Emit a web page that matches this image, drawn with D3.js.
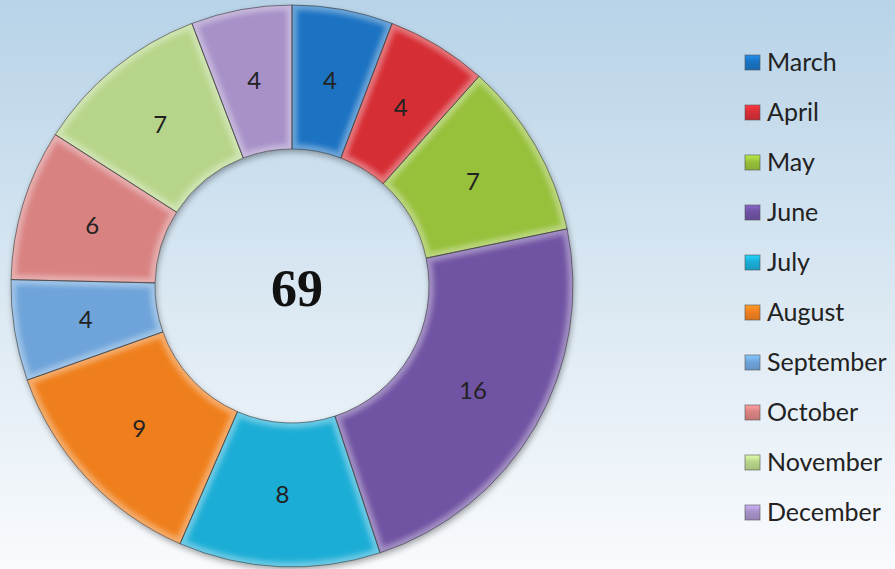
<!DOCTYPE html>
<html>
<head>
<meta charset="utf-8">
<script src="https://cdn.jsdelivr.net/npm/d3@7"></script>
<style>
  body { margin: 0; padding: 0; }
  svg { display: block; }
</style>
</head>
<body>
<div id="chart"></div>
<script>
//Chart data
let months = ["March", "April", "May", "June", "July", "August", "September", "October", "November", "December"];
let counts = [4, 4, 7, 16, 8, 9, 4, 6, 7, 4];
let colors = ["#1a73c2", "#d62e36", "#97c03a", "#6f52a3", "#1badd6", "#ef7f1f", "#6ea4da", "#d98282", "#b7d58a", "#a791c8"];

//Set graph size
let svgWidth = 895;
let svgHeight = 569;
let cx = 292, cy = 286;
let outerR = 281, innerR = 137;

let svg = d3.select("#chart")
    .append("svg")
    .attr("width", svgWidth)
    .attr("height", svgHeight);

let defs = svg.append("defs");

//Background gradient
let bg = defs.append("linearGradient")
    .attr("id", "bg")
    .attr("x1", 0).attr("y1", 0).attr("x2", 0).attr("y2", 1);
bg.append("stop").attr("offset", "0%").attr("stop-color", "#b8d3e8");
bg.append("stop").attr("offset", "55%").attr("stop-color", "#dce9f3");
bg.append("stop").attr("offset", "100%").attr("stop-color", "#f9fbfd");

svg.append("rect")
    .attr("width", svgWidth)
    .attr("height", svgHeight)
    .attr("fill", "url(#bg)");

//Drop shadow for the ring
let shadow = defs.append("filter").attr("id", "shadow")
    .attr("x", "-10%").attr("y", "-10%").attr("width", "120%").attr("height", "120%");
shadow.append("feGaussianBlur").attr("in", "SourceAlpha").attr("stdDeviation", 3);
shadow.append("feOffset").attr("dx", 1).attr("dy", 3).attr("result", "blur");
shadow.append("feComponentTransfer").append("feFuncA").attr("type", "linear").attr("slope", 0.35);
let merge = shadow.append("feMerge");
merge.append("feMergeNode");
merge.append("feMergeNode").attr("in", "SourceGraphic");

//Soft blur for the bevel glow
defs.append("filter").attr("id", "soft")
    .attr("x", "-10%").attr("y", "-10%").attr("width", "120%").attr("height", "120%")
    .append("feGaussianBlur").attr("stdDeviation", 2.5);

//Pie layout
let pie = d3.pie().sort(null).value(function(d) { return d; });
let arc = d3.arc().innerRadius(innerR).outerRadius(outerR);
let arcs = pie(counts);

let ring = svg.append("g")
    .attr("transform", "translate(" + cx + "," + cy + ")");

let ringBase = ring.append("g").attr("filter", "url(#shadow)");

//Clip paths so the bevel highlight stays inside each slice
arcs.forEach(function(d, i) {
    defs.append("clipPath")
        .attr("id", "clip" + i)
        .append("path")
        .attr("d", arc(d));
});

ringBase.selectAll("path.slice")
    .data(arcs)
    .enter()
    .append("path")
    .attr("class", "slice")
    .attr("d", arc)
    .attr("fill", function(d, i) { return colors[i]; });

//Bevel: soft light glow along the edges
ring.selectAll("g.bevel")
    .data(arcs)
    .enter()
    .append("g")
    .attr("class", "bevel")
    .attr("clip-path", function(d, i) { return "url(#clip" + i + ")"; })
    .append("path")
    .attr("d", arc)
    .attr("fill", "none")
    .attr("filter", "url(#soft)")
    .attr("stroke", "#ffffff")
    .attr("stroke-opacity", 0.35)
    .attr("stroke-width", 10);

ring.selectAll("path.outline")
    .data(arcs)
    .enter()
    .append("path")
    .attr("class", "outline")
    .attr("d", arc)
    .attr("fill", "none")
    .attr("stroke", "#3a3a3a")
    .attr("stroke-opacity", 0.6)
    .attr("stroke-width", 1);

//Value labels
ring.selectAll("text.value")
    .data(arcs)
    .enter()
    .append("text")
    .attr("class", "value")
    .attr("x", function(d) { return arc.centroid(d)[0]; })
    .attr("y", function(d) { return arc.centroid(d)[1]; })
    .attr("dy", "0.36em")
    .attr("text-anchor", "middle")
    .style("font-family", "Lato, 'Open Sans', sans-serif")
    .style("font-size", "24px")
    .style("fill", "#222")
    .text(function(d) { return d.data; });

//Total in the middle
svg.append("text")
    .attr("x", cx + 5)
    .attr("y", 306)
    .attr("text-anchor", "middle")
    .style("font-family", "'Liberation Serif', 'DejaVu Serif', serif")
    .style("font-weight", "bold")
    .style("font-size", "52px")
    .style("fill", "#111")
    .text(d3.sum(counts));

//Legend
let legendY = d3.scalePoint().domain(months).range([62, 512]);

let legend = svg.append("g");

months.forEach(function(m, i) {
    let g = defs.append("linearGradient")
        .attr("id", "lg" + i)
        .attr("x1", 0).attr("y1", 0).attr("x2", 0).attr("y2", 1);
    g.append("stop").attr("offset", "0%").attr("stop-color", d3.color(colors[i]).brighter(0.6));
    g.append("stop").attr("offset", "45%").attr("stop-color", colors[i]);
    g.append("stop").attr("offset", "100%").attr("stop-color", d3.color(colors[i]).darker(0.3));
});

legend.selectAll("rect")
    .data(months)
    .enter()
    .append("rect")
    .attr("x", 745)
    .attr("y", function(d) { return legendY(d) - 7; })
    .attr("width", 15)
    .attr("height", 15)
    .attr("fill", function(d, i) { return "url(#lg" + i + ")"; })
    .attr("stroke", "#555")
    .attr("stroke-opacity", 0.6)
    .attr("stroke-width", 1);

legend.selectAll("text")
    .data(months)
    .enter()
    .append("text")
    .attr("x", 767)
    .attr("y", function(d) { return legendY(d); })
    .attr("dy", "0.36em")
    .style("font-family", "Lato, 'Open Sans', sans-serif")
    .style("font-size", "25px")
    .style("fill", "#222")
    .text(function(d) { return d; });
</script>
</body>
</html>
